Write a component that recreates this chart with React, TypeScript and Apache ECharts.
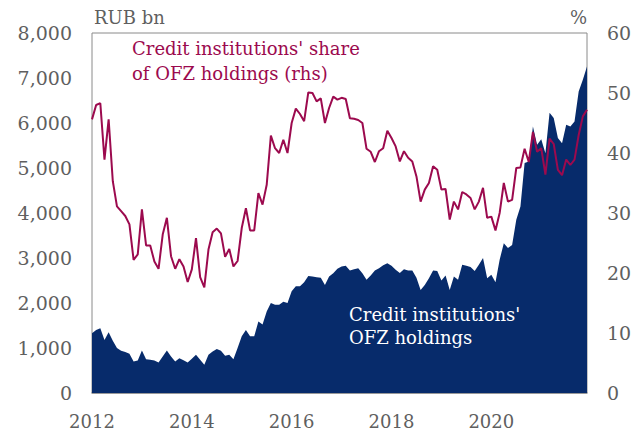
import React, { useEffect, useRef } from "react";
import * as echarts from "echarts";

const START_YEAR = 2012;
const xTicks = [2012, 2014, 2016, 2018, 2020];

// Credit institutions' OFZ holdings, RUB bn, monthly Jan 2012 - Dec 2021
const holdings = [
  1330, 1400, 1440, 1180, 1350, 1160, 1000, 940, 910, 870,
  700, 720, 945, 750, 740, 720, 680, 810, 945, 810,
  700, 775, 730, 680, 760, 850, 740, 630, 850, 920,
  980, 940, 830, 850, 750, 1000, 1260, 1400, 1260, 1260,
  1590, 1520, 1810, 2000, 1960, 1960, 2030, 2000, 2260, 2370,
  2370, 2460, 2600, 2590, 2575, 2560, 2400, 2590, 2660, 2760,
  2810, 2830, 2720, 2750, 2775, 2660, 2515, 2610, 2720, 2775,
  2840, 2885, 2830, 2740, 2665, 2750, 2720, 2720, 2560, 2290,
  2400, 2550, 2720, 2710, 2500, 2610, 2290, 2590, 2515, 2850,
  2830, 2800, 2710, 2850, 3000, 2550, 2630, 2460, 2960, 3330,
  3220, 3290, 3850, 4145, 5110, 5145, 5920, 5515, 5640, 5330,
  6230, 6110, 5665, 5550, 5960, 5920, 6035, 6700, 6960, 7255,
];

// Credit institutions' share of OFZ holdings, % (rhs)
const share = [
  45.6, 48.0, 48.3, 38.9, 45.6, 35.3, 31.1, 30.3, 29.5, 28.1,
  22.2, 23.1, 30.6, 24.6, 24.6, 21.9, 20.7, 26.4, 29.2, 22.8,
  20.7, 22.3, 21.1, 18.5, 20.6, 25.8, 19.3, 17.6, 23.9, 26.8,
  27.4, 26.6, 22.7, 24.0, 21.1, 22.0, 27.5, 30.8, 27.1, 27.1,
  33.3, 31.4, 34.7, 42.9, 40.8, 40.0, 42.2, 40.0, 45.0, 47.4,
  46.5, 45.3, 50.1, 50.0, 48.6, 49.1, 45.0, 47.5, 49.4, 48.9,
  49.2, 49.0, 45.8, 45.7, 45.5, 45.0, 40.7, 40.2, 38.5, 40.3,
  40.8, 43.7, 42.5, 41.1, 38.6, 40.3, 39.2, 38.6, 36.1, 31.9,
  33.9, 35.0, 37.8, 37.2, 33.9, 34.0, 28.9, 31.9, 30.6, 33.5,
  33.1, 32.5, 30.6, 31.9, 34.2, 29.2, 29.4, 27.1, 30.0, 35.0,
  31.9, 32.2, 37.5, 37.6, 40.7, 38.5, 43.5, 40.2, 40.8, 36.4,
  42.4, 41.5, 37.2, 36.3, 38.9, 38.0, 38.9, 43.0, 46.1, 47.2,
];

const FONT = "DejaVu Serif";
const GRAY = "#5f5f5f";
const NAVY = "#072b6b";
const CRIMSON = "#9c0a4e";

export default function App() {
  const ref = useRef<HTMLDivElement>(null);
  useEffect(() => {
    if (!ref.current) return;
    const chart = echarts.init(ref.current, null, { renderer: "svg" });
    const xOf = (i: number) => START_YEAR + i / 12;
    const areaData = holdings.map((v, i) => [xOf(i), v]);
    const lineData = share.map((v, i) => [xOf(i), v]);
    const labelStyle = { color: GRAY, fontFamily: FONT, fontSize: 18 };
    chart.setOption({
      animation: false,
      backgroundColor: "#ffffff",
      grid: {
        left: 92,
        right: 55,
        top: 33,
        bottom: 37,
        show: true,
        borderColor: "#8a8a8a",
        borderWidth: 1,
        backgroundColor: "transparent",
      },
      xAxis: {
        type: "value",
        min: START_YEAR,
        max: xOf(holdings.length - 1),
        interval: 2,
        axisLine: { show: true, lineStyle: { color: "#8a8a8a", width: 1.5 } },
        axisTick: { show: false },
        splitLine: { show: false },
        axisLabel: {
          ...labelStyle,
          margin: 19,
          formatter: (v: number) =>
            xTicks.some((t) => Math.abs(t - v) < 1e-6) ? String(Math.round(v)) : "",
        },
      },
      yAxis: [
        {
          type: "value",
          min: 0,
          max: 8000,
          interval: 1000,
          axisLine: { show: false },
          axisTick: { show: false },
          splitLine: { show: false },
          axisLabel: {
            ...labelStyle,
            fontSize: 19,
            margin: 20,
            formatter: (v: number) => v.toLocaleString("en-US"),
          },
        },
        {
          type: "value",
          min: 0,
          max: 60,
          interval: 10,
          position: "right",
          axisLine: { show: false },
          axisTick: { show: false },
          splitLine: { show: false },
          axisLabel: { ...labelStyle, fontSize: 19, margin: 20 },
        },
      ],
      series: [
        {
          name: "Credit institutions' OFZ holdings",
          type: "line",
          yAxisIndex: 0,
          data: areaData,
          symbol: "none",
          lineStyle: { width: 0, color: NAVY },
          areaStyle: { color: NAVY, opacity: 1 },
          z: 2,
        },
        {
          name: "Credit institutions' share of OFZ holdings (rhs)",
          type: "line",
          yAxisIndex: 1,
          data: lineData,
          symbol: "none",
          lineStyle: { width: 2, color: CRIMSON },
          z: 3,
        },
      ],
      graphic: [
        {
          type: "text",
          left: 94,
          top: 8,
          style: { text: "RUB bn", fill: GRAY, font: `18px "${FONT}"` },
        },
        {
          type: "text",
          right: 55,
          top: 8,
          style: { text: "%", fill: GRAY, font: `18px "${FONT}"` },
        },
        {
          type: "text",
          left: 132,
          top: 39,
          style: { text: "Credit institutions' share", fill: CRIMSON, font: `18px "${FONT}"` },
        },
        {
          type: "text",
          left: 132,
          top: 64,
          style: { text: "of OFZ holdings (rhs)", fill: CRIMSON, font: `18px "${FONT}"` },
        },
        {
          type: "text",
          left: 349,
          top: 305,
          z: 10,
          style: { text: "Credit institutions'", fill: "#ffffff", font: `18px "${FONT}"` },
        },
        {
          type: "text",
          left: 349,
          top: 328,
          z: 10,
          style: { text: "OFZ holdings", fill: "#ffffff", font: `18px "${FONT}"` },
        },
      ],
    });
    return () => chart.dispose();
  }, []);
  return (
    <div
      ref={ref}
      style={{ position: "fixed", left: 0, top: 0, width: 642, height: 430 }}
    />
  );
}
